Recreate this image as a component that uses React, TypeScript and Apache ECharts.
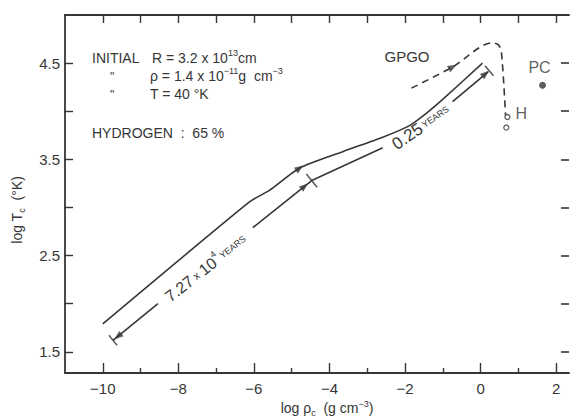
import React, { useEffect, useRef } from "react";
import * as echarts from "echarts";

// ---- data (log rho_c, log T_c) ----
const trackX = [-10.0, -6.11, -5.58, -4.79, -3.65, -2.59, -1.88, -1.43, -1.01, 0.05];
const trackY = [1.79, 3.06, 3.18, 3.41, 3.58, 3.73, 3.85, 3.98, 4.12, 4.5];

const timeSeg1X = [-9.73, -8.54];
const timeSeg1Y = [1.62, 2.0];
const timeSeg2X = [-6.03, -4.47, -2.59];
const timeSeg2Y = [2.79, 3.28, 3.62];
const timeSeg3X = [-0.74, 0.2];
const timeSeg3Y = [4.1, 4.41];

const gpgoX = [-1.83, -0.74, 0.31, 0.47, 0.55, 0.66];
const gpgoY = [4.24, 4.46, 4.71, 4.69, 4.62, 3.96];

const hX = [0.71, 0.68];
const hY = [3.94, 3.83];
const pcX = [1.64];
const pcY = [4.27];

// arrow heads: position and direction (deg, ccw from +x)
const arrowX = [-4.79, -0.74, -9.6, 0.13, -4.66];
const arrowY = [3.41, 4.46, 1.66, 4.39, 3.22];
const arrowDir = [34, 29, 218.7, 40.6, 39];

// end bars / cross marks on time line
const barX = [-9.73, 0.23, -4.47];
const barY = [1.62, 4.42, 3.28];
const barDir = [38.7, 40.6, 39];

const xMajor = [-10, -8, -6, -4, -2, 0, 2];
const xMinor = [-9, -7, -5, -3, -1, 1];
const xAll = [-10, -9, -8, -7, -6, -5, -4, -3, -2, -1, 0, 1, 2];
const yTicks = [1.5, 2.0, 2.5, 3.0, 3.5, 4.0, 4.5];
const yLabels = [1.5, 2.5, 3.5, 4.5];

const INK = "#363636";
const FONT = '"Liberation Sans", Arial, sans-serif';
const X_MIN = -11;
const X_MAX = 2.34;
const Y_MIN = 1.28;
const Y_MAX = 5.0;

const pts = (xs: number[], ys: number[]) => xs.map((x, i) => [x, ys[i]]);

export default function App() {
  const ref = useRef<HTMLDivElement>(null);
  useEffect(() => {
    const chart = echarts.init(ref.current!, null, { renderer: "svg" });
    const lineStyle = { color: INK, width: 1.6 };
    const tok = (size: number, lh: number, va?: string) => ({
      fontSize: size, fontFamily: FONT, fill: INK, color: INK, lineHeight: lh, ...(va ? { verticalAlign: va } : {}),
    });
    const rich = { t: tok(14, 20), s: tok(9, 20, "top") };
    const axisCommon = { splitLine: { show: false } };
    chart.setOption({
      animation: false,
      backgroundColor: "#fff",
      grid: { left: 65, right: 1, top: 15, bottom: 46 },
      xAxis: [
        {
          ...axisCommon, type: "value", min: X_MIN, max: X_MAX, position: "bottom",
          axisLine: { show: true, onZero: false, lineStyle: { color: INK, width: 1.8 } },
          axisTick: { show: true, inside: true, length: 10, customValues: xMajor, lineStyle: { color: INK, width: 1.4 } },
          axisLabel: {
            customValues: xMajor, margin: 8, color: INK, fontSize: 15, fontFamily: FONT,
            formatter: (v: number) => (v < 0 ? "\u2212" + Math.abs(v) : String(v)),
          },
        },
        {
          ...axisCommon, type: "value", min: X_MIN, max: X_MAX, position: "bottom",
          axisLine: { show: false, onZero: false },
          axisTick: { show: true, inside: true, length: 5, customValues: xMinor, lineStyle: { color: INK, width: 1.4 } },
          axisLabel: { show: false },
        },
        {
          ...axisCommon, type: "value", min: X_MIN, max: X_MAX, position: "top",
          axisLine: { show: true, onZero: false, lineStyle: { color: INK, width: 1.8 } },
          axisTick: { show: true, inside: true, length: 8, customValues: xAll, lineStyle: { color: INK, width: 1.4 } },
          axisLabel: { show: false },
        },
      ],
      yAxis: [
        {
          ...axisCommon, type: "value", min: Y_MIN, max: Y_MAX, position: "left",
          axisLine: { show: true, onZero: false, lineStyle: { color: INK, width: 1.8 } },
          axisTick: { show: true, inside: true, length: 8, customValues: yTicks, lineStyle: { color: INK, width: 1.4 } },
          axisLabel: {
            customValues: yLabels, margin: 5, color: INK, fontSize: 15, fontFamily: FONT,
            formatter: (v: number) => v.toFixed(1),
          },
        },
        {
          ...axisCommon, type: "value", min: Y_MIN, max: Y_MAX, position: "right",
          axisLine: { show: false, onZero: false },
          axisTick: { show: true, inside: true, length: 8, customValues: yTicks, lineStyle: { color: INK, width: 1.6 } },
          axisLabel: { show: false },
        },
      ],
      series: [
        { type: "line", data: pts(trackX, trackY), symbol: "none", lineStyle, smooth: 0.2 },
        { type: "line", data: pts(timeSeg1X, timeSeg1Y), symbol: "none", lineStyle },
        { type: "line", data: pts(timeSeg2X, timeSeg2Y), symbol: "none", lineStyle },
        { type: "line", data: pts(timeSeg3X, timeSeg3Y), symbol: "none", lineStyle },
        {
          type: "line", data: pts(gpgoX, gpgoY), symbol: "none", smooth: 0.3,
          lineStyle: { color: INK, width: 1.6, type: [7, 5] },
        },
        {
          type: "scatter", symbol: "triangle", symbolSize: [7, 9],
          itemStyle: { color: INK },
          data: arrowX.map((x, i) => ({ value: [x, arrowY[i]], symbolRotate: arrowDir[i] - 90 })),
          z: 5,
        },
        {
          type: "scatter", symbol: "rect",
          itemStyle: { color: INK },
          data: barX.map((x, i) => ({ value: [x, barY[i]], symbolRotate: barDir[i], symbolSize: [1.6, i === 2 ? 17 : 13] })),
          z: 5,
        },
        {
          type: "scatter", symbol: "circle", symbolSize: 5,
          itemStyle: { color: "#fff", borderColor: INK, borderWidth: 1.3 },
          data: pts(hX, hY).map((p, i) => ({
            value: p,
            label: i === 0
              ? { show: true, formatter: "H", position: "right", distance: 5, fontSize: 16, color: INK, fontFamily: FONT, offset: [0, -4] }
              : { show: false },
          })),
          z: 6,
        },
        {
          type: "scatter", symbol: "circle", symbolSize: 7, xAxisIndex: 2, yAxisIndex: 1,
          itemStyle: { color: INK },
          label: { show: true, formatter: "PC", position: "top", distance: 6, fontSize: 16, color: INK, fontFamily: FONT, offset: [-3, 0] },
          data: pts(pcX, pcY),
          z: 6,
        },
      ],
      graphic: [
        { type: "text", x: 92, y: 58, style: { text: "INITIAL", font: `14px ${FONT}`, fill: INK, verticalAlign: "middle" } },
        { type: "text", x: 152, y: 58, style: { text: "{t|R = 3.2 x 10}{s|13}{t|cm}", rich, fill: INK, verticalAlign: "middle" } },
        { type: "text", x: 110, y: 77, style: { text: "\"", font: `12px ${FONT}`, fill: INK, verticalAlign: "middle" } },
        { type: "text", x: 150, y: 76, style: { text: "{t|\u03c1 = 1.4 x 10}{s|\u221211}{t|g  cm}{s|\u22123}", rich, fill: INK, verticalAlign: "middle" } },
        { type: "text", x: 110, y: 95, style: { text: "\"", font: `12px ${FONT}`, fill: INK, verticalAlign: "middle" } },
        { type: "text", x: 150, y: 94, style: { text: "T = 40 \u00b0K", font: `14px ${FONT}`, fill: INK, verticalAlign: "middle" } },
        { type: "text", x: 92, y: 133, style: { text: "HYDROGEN  :  65 %", font: `14px ${FONT}`, fill: INK, verticalAlign: "middle" } },
        { type: "text", x: 407, y: 56, style: { text: "GPGO", font: `15px ${FONT}`, fill: INK, align: "center", verticalAlign: "middle" } },
        {
          type: "text", x: 206, y: 268, rotation: (38 * Math.PI) / 180,
          style: {
            text: "{b|7.27}{m| x }{b|10}{s|4}{y| YEARS}", align: "center", verticalAlign: "middle", fill: INK,
            rich: { b: tok(16, 22), m: tok(11, 22), s: tok(9, 22, "top"), y: tok(9, 22) },
          },
        },
        {
          type: "text", x: 421, y: 127, rotation: (35 * Math.PI) / 180,
          style: {
            text: "{b|0.25}{y| YEARS}", align: "center", verticalAlign: "middle", fill: INK,
            rich: { b: tok(17, 22), y: tok(9, 22) },
          },
        },
        {
          type: "text", x: 17, y: 210, rotation: Math.PI / 2,
          style: {
            text: "{t|log T}{c|c}{t|  (\u00b0K)}", align: "center", verticalAlign: "middle", fill: INK,
            rich: { t: tok(14, 18), c: tok(9, 18, "bottom") },
          },
        },
        {
          type: "text", x: 327, y: 408,
          style: {
            text: "{t|log \u03c1}{c|c}{t|  (g cm}{s|\u22123}{t|)}", align: "center", verticalAlign: "middle", fill: INK,
            rich: { t: tok(14, 18), c: tok(9, 18, "bottom"), s: tok(9, 18, "top") },
          },
        },
      ],
    });
    return () => chart.dispose();
  }, []);
  return <div ref={ref} style={{ position: "fixed", left: 0, top: 0, width: 570, height: 419 }} />;
}
